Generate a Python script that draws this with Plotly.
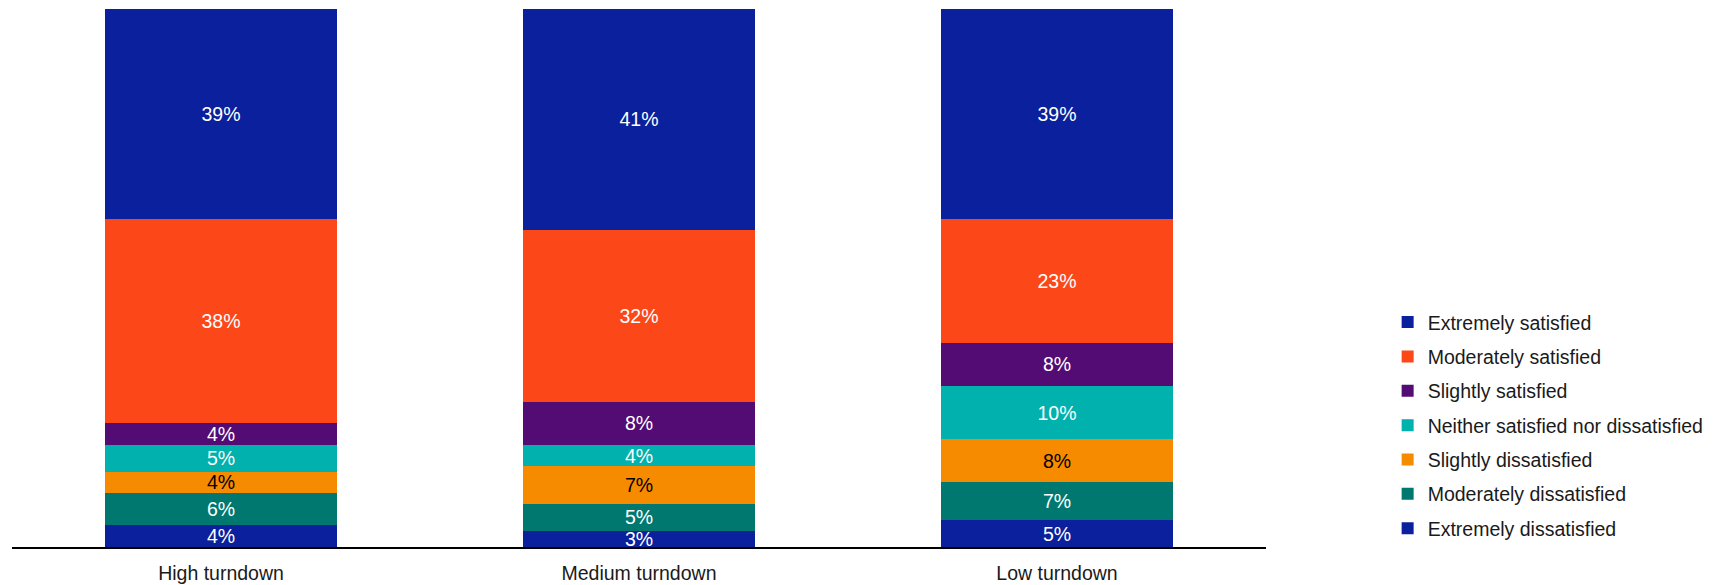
import plotly.graph_objects as go

categories = ["High turndown", "Medium turndown", "Low turndown"]

# bottom-to-top stacking order
series_names = [
    "Extremely dissatisfied",
    "Moderately dissatisfied",
    "Slightly dissatisfied",
    "Neither satisfied nor dissatisfied",
    "Slightly satisfied",
    "Moderately satisfied",
    "Extremely satisfied",
]
extremely_dissatisfied = [4, 3, 5]
moderately_dissatisfied = [6, 5, 7]
slightly_dissatisfied = [4, 7, 8]
neither = [5, 4, 10]
slightly_satisfied = [4, 8, 8]
moderately_satisfied = [38, 32, 23]
extremely_satisfied = [39, 41, 39]

series_values = [
    extremely_dissatisfied,
    moderately_dissatisfied,
    slightly_dissatisfied,
    neither,
    slightly_satisfied,
    moderately_satisfied,
    extremely_satisfied,
]
colors = ["#0a209c", "#00786f", "#f78b00", "#00b1ad", "#520c74", "#fc4718", "#0a209c"]
text_colors = ["white", "white", "black", "white", "white", "white", "white"]

FONT = "Liberation Sans, Arial, sans-serif"
FS = 19.5

fig = go.Figure()
n = len(series_names)
for i, (name, vals) in enumerate(zip(series_names, series_values)):
    fig.add_trace(go.Bar(
        x=categories,
        y=vals,
        name=name,
        legendgroup=name,
        legendrank=(n - i) * 10,
        marker=dict(color=colors[i], line=dict(width=0)),
        text=[f"{v}%" for v in vals],
        textposition="inside",
        insidetextanchor="middle",
        textangle=0,
        textfont=dict(family=FONT, size=FS, color=text_colors[i]),
        hoverinfo="skip",
    ))

fig.update_layout(
    width=1714,
    height=585,
    barmode="stack",
    bargap=0.445,
    plot_bgcolor="white",
    paper_bgcolor="white",
    margin=dict(l=12, r=448, t=9, b=38, autoexpand=False),
    font=dict(family=FONT, size=FS, color="#1a1a1a"),
    uniformtext=dict(minsize=FS, mode="show"),
    showlegend=True,
    legend=dict(
        x=1.097, xanchor="left",
        y=0.226, yanchor="middle",
        traceorder="grouped",
        tracegroupgap=6,
        font=dict(family=FONT, size=FS, color="#1a1a1a"),
        bgcolor="rgba(0,0,0,0)",
    ),
    xaxis=dict(
        automargin=False,
        showline=True, linecolor="black", linewidth=2,
        ticks="outside", ticklen=8, tickcolor="rgba(0,0,0,0)",
        showgrid=False, zeroline=False,
        tickfont=dict(family=FONT, size=FS, color="#1a1a1a"),
    ),
    yaxis=dict(
        automargin=False,
        range=[0, 100], visible=False, showgrid=False, zeroline=False,
    ),
)

fig.write_html("out.html")
